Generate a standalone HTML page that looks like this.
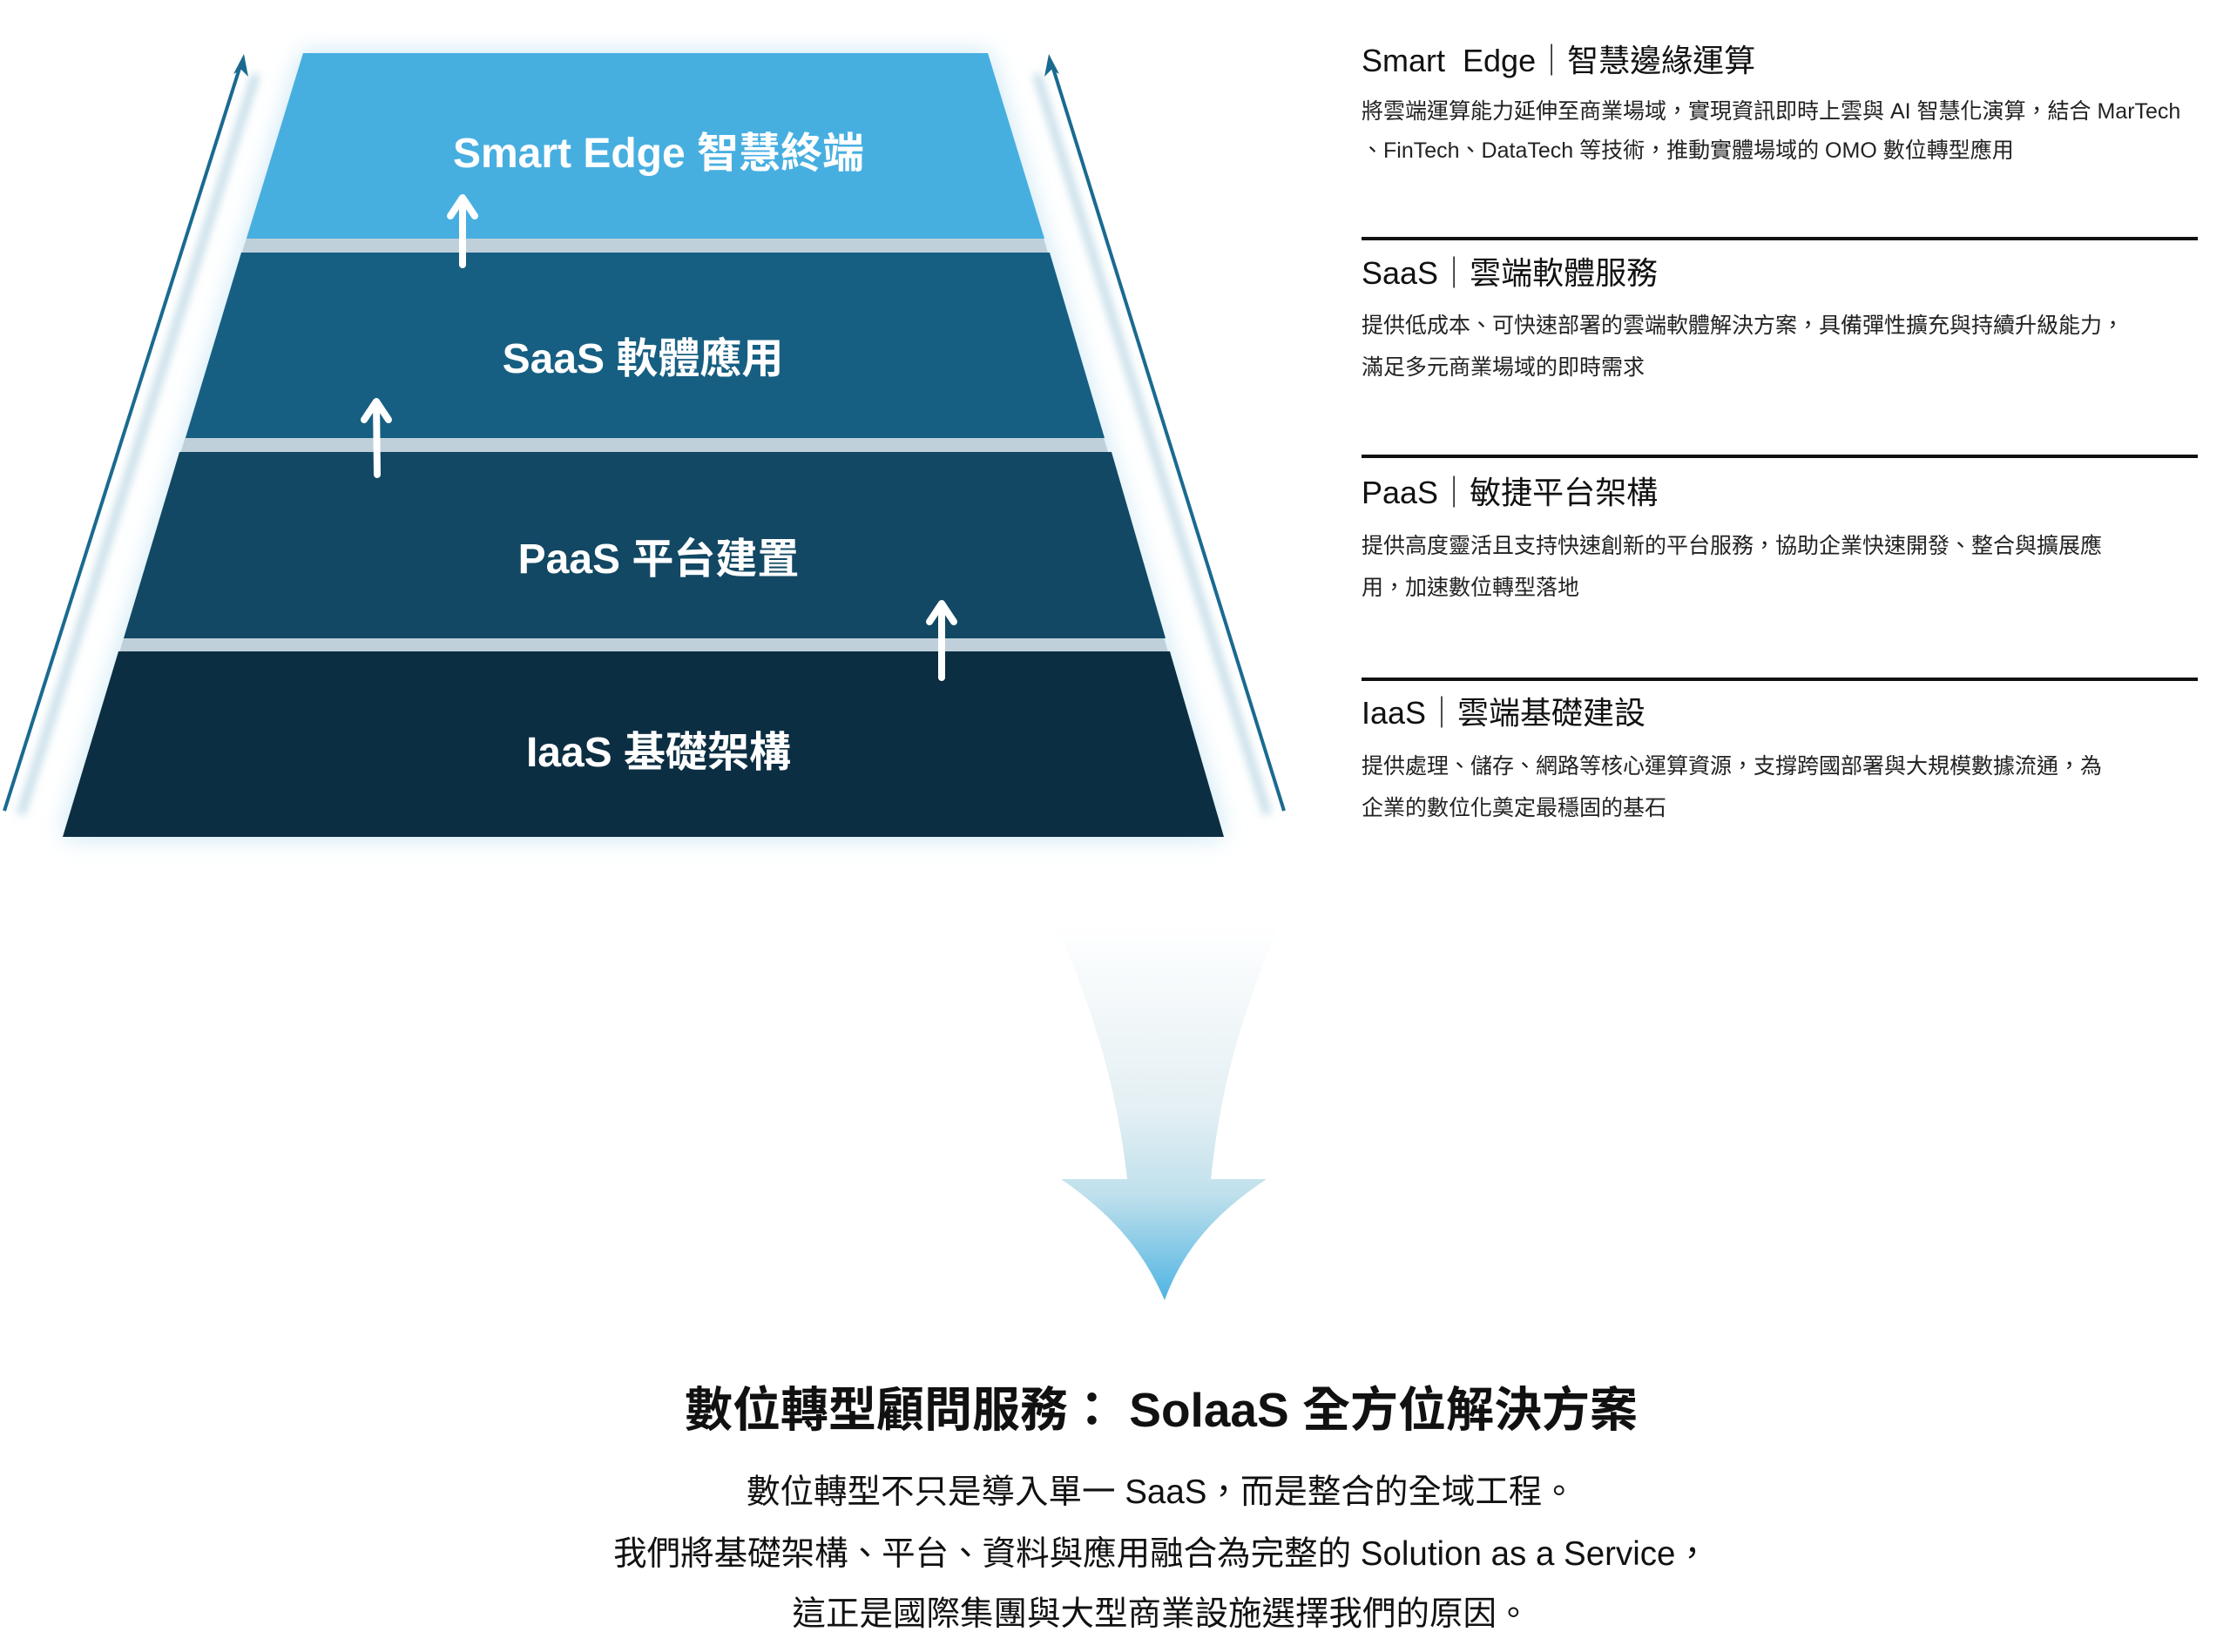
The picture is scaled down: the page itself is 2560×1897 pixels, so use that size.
<!DOCTYPE html>
<html><head><meta charset="utf-8"><style>
html,body{margin:0;padding:0;background:#fff;}
body{width:2560px;height:1897px;position:relative;overflow:hidden;font-family:"Liberation Sans","Noto Sans CJK TC",sans-serif;}
svg{position:absolute;left:0;top:0;}
.t{position:absolute;left:1563px;white-space:nowrap;color:#111;}
.h{font-size:36px;line-height:40px;}
.d{font-size:25px;line-height:30px;color:#222;}
.r{position:absolute;left:1563px;width:960px;height:4px;background:#111;}
.c{position:absolute;left:0;width:2666px;text-align:center;white-space:nowrap;color:#111;}
</style></head><body>
<svg width="2560" height="1897" viewBox="0 0 2560 1897">
<defs>
<filter id="g" x="-20%" y="-20%" width="140%" height="140%"><feGaussianBlur stdDeviation="14"/></filter>
<filter id="g2"><feGaussianBlur stdDeviation="5"/></filter>
<linearGradient id="ag" x1="0" y1="0" x2="0" y2="1">
<stop offset="0" stop-color="#ffffff"/><stop offset="0.5" stop-color="#e3eff3"/><stop offset="0.72" stop-color="#bfe0ec"/><stop offset="1" stop-color="#4fb4e2"/></linearGradient>
</defs>
<polygon points="348,61 1134,61 1405,961 72,961" fill="#bfe2f2" filter="url(#g)" opacity="0.9"/>
<polygon points="348,61 1134,61 1405,961 72,961" fill="#bfd0da"/>
<polygon points="348,61 1134,61 1199,274 283,274" fill="#47afe0"/>
<polygon points="277,290 1205,290 1268,503 213,503" fill="#165f82"/>
<polygon points="206,519 1276,519 1338,733 142,733" fill="#124863"/>
<polygon points="136,748 1343,748 1405,961 72,961" fill="#0c2e42"/>
<line x1="24" y1="935" x2="294" y2="85" stroke="#b9d6e4" stroke-width="8" filter="url(#g2)"/>
<line x1="1455" y1="935" x2="1190" y2="85" stroke="#b9d6e4" stroke-width="8" filter="url(#g2)"/>
<line x1="5" y1="931" x2="277" y2="72" stroke="#1a6a90" stroke-width="4"/>
<polygon points="280,62 268,85 277,80 285,88" fill="#1a6a90"/>
<line x1="1474" y1="931" x2="1207" y2="72" stroke="#1a6a90" stroke-width="4"/>
<polygon points="1204,62 1199,88 1207,80 1216,85" fill="#1a6a90"/>
<g stroke="#fff" stroke-width="8" stroke-linecap="round" fill="none" stroke-linejoin="round">
<line x1="531" y1="228" x2="531" y2="304"/><polyline points="517,248 531,227 545,248"/>
<line x1="432" y1="462" x2="433" y2="545"/><polyline points="418,482 432,461 446,482"/>
<line x1="1081" y1="694" x2="1081" y2="778"/><polyline points="1067,714 1081,693 1095,714"/>
</g>
<g fill="#fff" font-size="48" font-weight="bold" text-anchor="middle" font-family="Liberation Sans, Noto Sans CJK TC, sans-serif">
<text x="756" y="192">Smart Edge 智慧終端</text>
<text x="738" y="428">SaaS 軟體應用</text>
<text x="756" y="658">PaaS 平台建置</text>
<text x="756" y="880">IaaS 基礎架構</text>
</g>
<path d="M1212,1062 L1469,1062 C1420,1175 1400,1260 1390,1354 L1454,1354 C1400,1390 1360,1430 1337,1493 C1310,1430 1270,1390 1218,1354 L1294,1354 C1283,1260 1262,1175 1212,1062 Z" fill="url(#ag)"/>
</svg>

<div class="t h" style="top:50px">Smart&nbsp; Edge｜智慧邊緣運算</div>
<div class="t d" style="top:113px">將雲端運算能力延伸至商業場域，實現資訊即時上雲與 AI 智慧化演算，結合 MarTech</div>
<div class="t d" style="top:158px">、FinTech、DataTech 等技術，推動實體場域的 OMO 數位轉型應用</div>
<div class="r" style="top:272px"></div>
<div class="t h" style="top:294px">SaaS｜雲端軟體服務</div>
<div class="t d" style="top:359px">提供低成本、可快速部署的雲端軟體解決方案，具備彈性擴充與持續升級能力，</div>
<div class="t d" style="top:407px">滿足多元商業場域的即時需求</div>
<div class="r" style="top:522px"></div>
<div class="t h" style="top:546px">PaaS｜敏捷平台架構</div>
<div class="t d" style="top:612px">提供高度靈活且支持快速創新的平台服務，協助企業快速開發、整合與擴展應</div>
<div class="t d" style="top:660px">用，加速數位轉型落地</div>
<div class="r" style="top:778px"></div>
<div class="t h" style="top:799px">IaaS｜雲端基礎建設</div>
<div class="t d" style="top:865px">提供處理、儲存、網路等核心運算資源，支撐跨國部署與大規模數據流通，為</div>
<div class="t d" style="top:913px">企業的數位化奠定最穩固的基石</div>

<div class="c" style="top:1586px;font-size:55px;font-weight:bold;line-height:66px">數位轉型顧問服務：&nbsp;SolaaS 全方位解決方案</div>
<div class="c" style="top:1692px;font-size:38.5px;line-height:44px">數位轉型不只是導入單一 SaaS，而是整合的全域工程。</div>
<div class="c" style="top:1763px;font-size:38.5px;line-height:44px">我們將基礎架構、平台、資料與應用融合為完整的 Solution as a Service，</div>
<div class="c" style="top:1832px;font-size:38.5px;line-height:44px">這正是國際集團與大型商業設施選擇我們的原因。</div>
</body></html>
